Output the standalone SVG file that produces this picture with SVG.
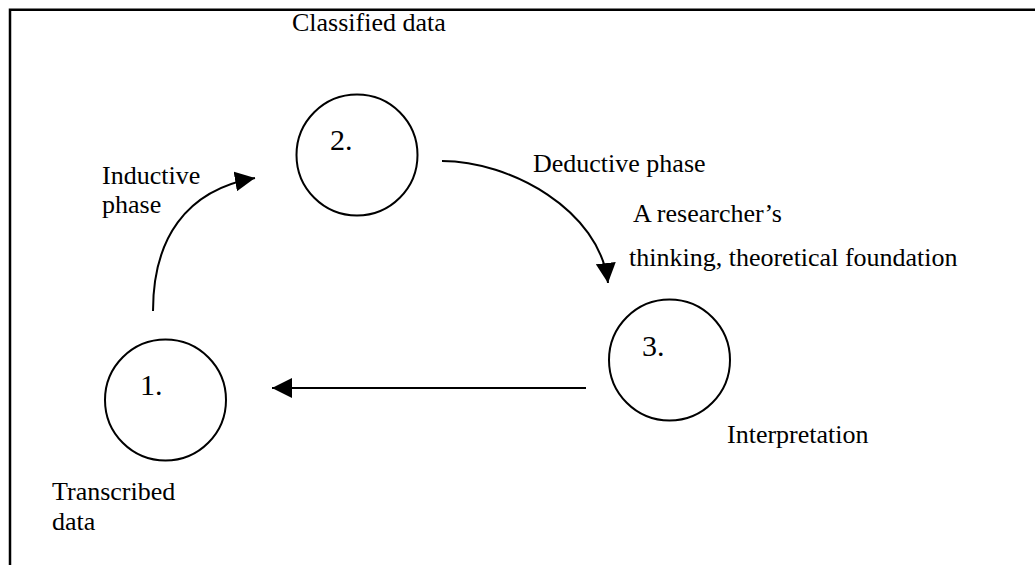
<svg xmlns="http://www.w3.org/2000/svg" width="1035" height="565" viewBox="0 0 1035 565">
<style>
.lbl{font-family:"Liberation Serif","Times New Roman",serif;font-size:26px;fill:#000}
.num{font-family:"Liberation Serif","Times New Roman",serif;font-size:30px;fill:#000}
.node{fill:#fff;stroke:#000;stroke-width:2}
.edge{fill:none;stroke:#000;stroke-width:2}
.frame{fill:none;stroke:#000;stroke-width:2.5}
</style>
<defs>
<marker id="ah" markerWidth="20" markerHeight="20" refX="20" refY="10" orient="auto" markerUnits="userSpaceOnUse">
<path d="M0,0 L20,10 L0,20 Z" fill="#000"/>
</marker>
</defs>
<rect width="1035" height="565" fill="#fff"/>
<path class="frame" d="M10,565 L10,9.7 L1035,9.7"/>
<g id="connectors">
<path class="edge" d="M153,311 C153,240 185,190 255,178" marker-end="url(#ah)"/>
<path class="edge" d="M442,161 C510,161 600,210 608,283" marker-end="url(#ah)"/>
<path class="edge" d="M586,388 L272,388" marker-end="url(#ah)"/>
</g>
<g id="node1">
<circle class="node" cx="165.5" cy="400" r="60.5"/>
<text class="num" x="140" y="395" font-family="Liberation Serif, serif">1.</text>
</g>
<g id="node2">
<circle class="node" cx="357" cy="155" r="60.5"/>
<text class="num" x="330" y="150" font-family="Liberation Serif, serif">2.</text>
</g>
<g id="node3">
<circle class="node" cx="669.5" cy="360" r="60.5"/>
<text class="num" x="642" y="356" font-family="Liberation Serif, serif">3.</text>
</g>
<g id="labels" font-family="Liberation Serif, serif">
<text class="lbl" x="292" y="31">Classified data</text>
<text class="lbl" x="102" y="184">Inductive</text>
<text class="lbl" x="102" y="213">phase</text>
<text class="lbl" x="533" y="172">Deductive phase</text>
<text class="lbl" x="633" y="222">A researcher’s</text>
<text class="lbl" x="629" y="266">thinking, theoretical foundation</text>
<text class="lbl" x="727" y="443">Interpretation</text>
<text class="lbl" x="52" y="500">Transcribed</text>
<text class="lbl" x="52" y="530">data</text>
</g>
</svg>
